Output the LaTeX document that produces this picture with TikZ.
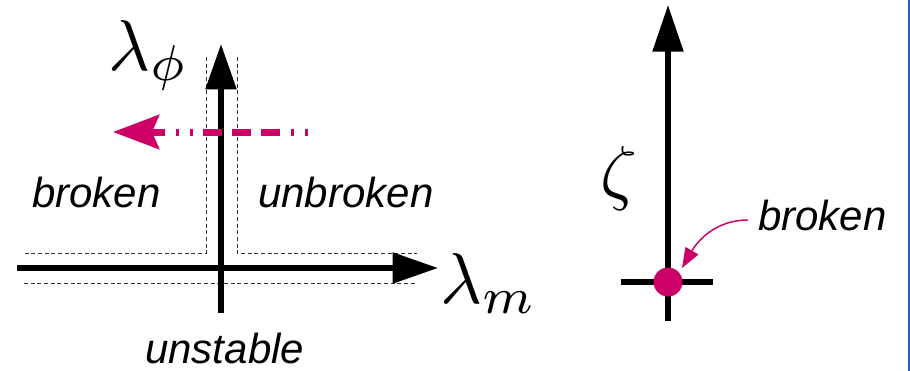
\documentclass[tikz,border=0pt]{standalone}
\usepackage{fontspec}
\usepackage{graphicx}
\newfontfamily\lsans{Liberation Sans}
\usetikzlibrary{arrows.meta}
\definecolor{mag}{RGB}{204,0,102}
\definecolor{frameblue}{RGB}{30,100,200}
\newcommand{\bigmath}[1]{\scalebox{5.4}{$#1$}}
\begin{document}
\begin{tikzpicture}[x=0.75pt,y=-0.75pt,
  axis/.style={line width=4pt,-{Triangle[length=34pt,width=22.5pt]}},
  tick/.style={line width=4pt},
  guide/.style={line width=0.75pt,dash pattern=on 3pt off 2pt,black!80},
  lbl/.style={inner sep=0pt,anchor=base west,font=\lsans\itshape\fontsize{31.5}{36}\selectfont},
  mathlbl/.style={inner sep=0pt,anchor=base west,font=\normalsize},
  flow/.style={mag,line width=5.25pt,
    dash pattern=on 2.25pt off 8.25pt on 2.25pt off 8.25pt on 14.25pt off 7.5pt on 14.25pt off 7.5pt on 14.25pt off 7.5pt,
    -{Stealth[length=34.5pt,width=25.5pt,inset=5.25pt]}},
  pointer/.style={mag,line width=1.1pt,-{Triangle[length=15pt,width=11pt]}}
]
\useasboundingbox (0,0) rectangle (910,371);
% left diagram
\coordinate (hs) at (17,268);
\coordinate (he) at (438,268);
\coordinate (vs) at (221,313);
\coordinate (ve) at (221,44);
\draw[guide] (206,57) -- (206,253) -- (24,253);
\draw[guide] (237,57) -- (237,253) -- (417,253);
\draw[guide] (24,283) -- (417,283);
\draw[axis] (hs) -- (he);
\draw[axis] (vs) -- (ve);
\coordinate (fs) at (308,132);
\coordinate (fe) at (113,132);
\draw[flow] (fs) -- (fe);
\node[mathlbl] (lphi) at (108,70) {\bigmath{\lambda_\phi}};
\node[mathlbl] (lm) at (440,303) {\bigmath{\lambda_m}};
\node[lbl] (brokenL) at (32,207) {broken};
\node[lbl] (unbroken) at (258,207) {unbroken};
\node[lbl] (unstable) at (145,363) {unstable};
% right diagram
\coordinate (zs) at (668,321);
\coordinate (ze) at (668,5);
\coordinate (tl) at (621,282);
\coordinate (tr) at (713,282);
\draw[tick] (tl) -- (tr);
\draw[axis,-{Triangle[length=35pt,width=22.5pt]}] (zs) -- (ze);
\node[mathlbl] (zeta) at (600,196) {\bigmath{\zeta}};
\node[circle,fill=mag,inner sep=0pt,minimum size=21.75pt] (dot) at (668,282) {};
\node[lbl] (brokenR) at (758,230) {broken};
\coordinate (ps) at (748,220);
\coordinate (pe) at (682,268);
\draw[pointer] (ps) to[out=180,in=60] (pe);
% frame edge
\coordinate (bt) at (908.5,0);
\coordinate (bb) at (908.5,371);
\draw[frameblue,line width=1.5pt] (bt) -- (bb);
\end{tikzpicture}
\end{document}
